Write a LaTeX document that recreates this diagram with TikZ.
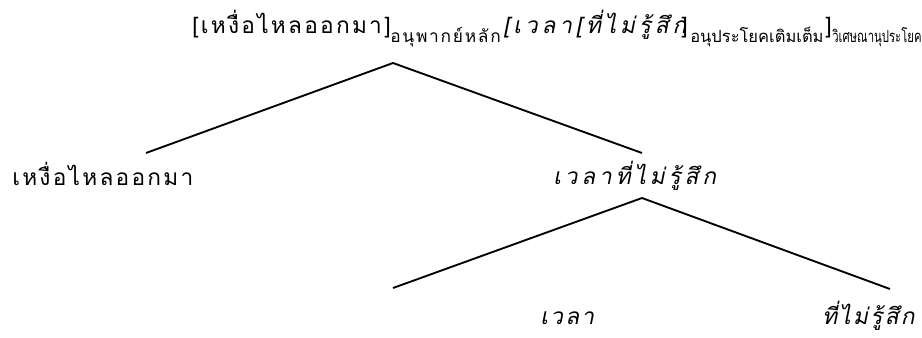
\documentclass[tikz,border=0pt]{standalone}
\usepackage{graphicx}
\usepackage{fontspec}
\newfontfamily\thaifont[Script=Thai, LetterSpace=10]{Loma}
\newfontfamily\thaislant[Script=Thai, LetterSpace=17, FakeSlant=0.2]{Loma}
\newfontfamily\thaileaf[Script=Thai, LetterSpace=10, FakeSlant=0.2]{Loma}
\newfontfamily\thaitight[Script=Thai]{Loma}
\newcommand{\mainsize}{\fontsize{17}{20}\selectfont}
\newcommand{\squeeze}[2]{\resizebox{#1}{\height}{#2}}
\begin{document}
\begin{tikzpicture}[x=0.75pt, y=-0.75pt,
    word/.style={anchor=base west, inner sep=0pt, font=\thaifont\mainsize},
    slant/.style={word, font=\thaislant\mainsize},
    leaf/.style={word, font=\thaileaf\mainsize},
    tag/.style={anchor=base west, inner sep=0pt, font=\thaifont\fontsize{13}{15}\selectfont},
    tagtight/.style={anchor=base west, inner sep=0pt, font=\thaitight\fontsize{12.5}{15}\selectfont},
    branch/.style={line width=1.4pt}]
    \useasboundingbox (0,0) rectangle (922,337);

    % Bracketed sentence
    \node[word] (main) at (192,33) {[เหงื่อไหลออกมา]};
    \node[tag] (maintag) at (390,42) {อนุพากย์หลัก};
    \node[slant] (adv) at (503,33) {[เวลา[ที่ไม่รู้สึก};
    \node[word] (compclose) at (681,33) {]};
    \node[tagtight] (comptag) at (690,42) {\squeeze{100pt}{อนุประโยคเติมเต็ม}};
    \node[word] (advclose) at (825,33) {]};
    \node[tagtight] (advtag) at (832,42) {\squeeze{67pt}{วิเศษณานุประโยค}};

    % First split
    \node[word] (left) at (12,185) {เหงื่อไหลออกมา};
    \node[slant] (mid) at (553,184) {เวลาที่ไม่รู้สึก};

    % Second split
    \node[leaf] (leafa) at (540,324) {เวลา};
    \node[leaf] (leafb) at (822,324) {ที่ไม่รู้สึก};

    % Branch points
    \coordinate (rootfoot) at (393,63);
    \coordinate (lefttop) at (146,153);
    \coordinate (midtop) at (642,153);
    \coordinate (midfoot) at (642,198);
    \coordinate (atop) at (393,288);
    \coordinate (btop) at (890,289);

    \draw[branch] (lefttop) -- (rootfoot) -- (midtop);
    \draw[branch] (atop) -- (midfoot) -- (btop);
\end{tikzpicture}
\end{document}
